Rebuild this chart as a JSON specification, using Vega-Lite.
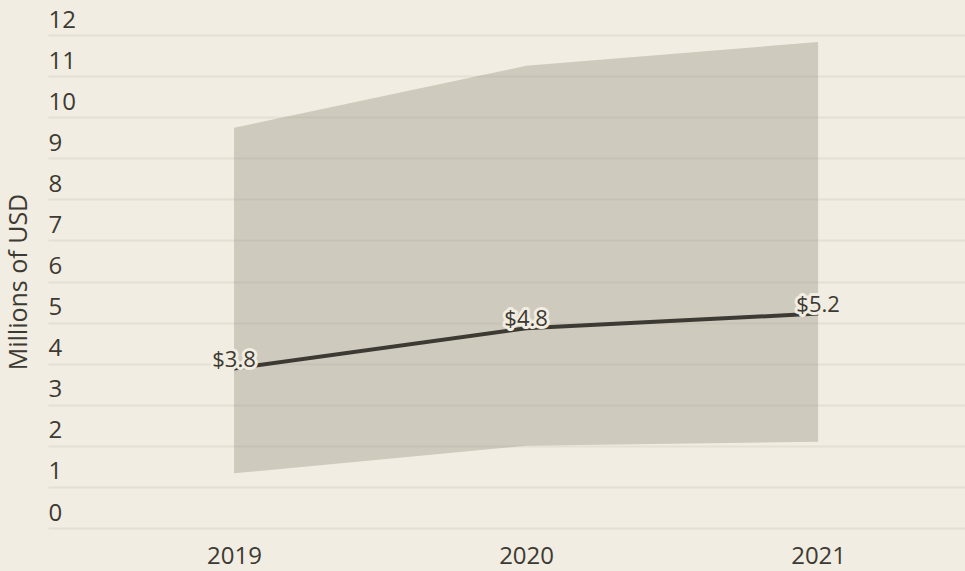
{
  "$schema": "https://vega.github.io/schema/vega-lite/v6.json",
  "autosize": "none",
  "padding": {"left": 48, "top": 35, "right": 0, "bottom": 43},
  "width": 917,
  "height": 493,
  "background": "#f1ede2",
  "config": {
    "view": {"stroke": null},
    "font": "Open Sans",
    "axis": {"labelFont": "Open Sans", "titleFont": "Open Sans", "labelColor": "#3d3a33", "titleColor": "#3d3a33"}
  },
  "data": {
    "values": [
      {"year": 2019, "value": 3.88, "low": 1.33, "high": 9.74, "label": "$3.8"},
      {"year": 2020, "value": 4.86, "low": 2.0, "high": 11.25, "label": "$4.8"},
      {"year": 2021, "value": 5.22, "low": 2.1, "high": 11.83, "label": "$5.2"}
    ]
  },
  "encoding": {
    "x": {
      "field": "year",
      "type": "quantitative",
      "scale": {"domain": [2018.363, 2021.503], "nice": false, "zero": false},
      "axis": {
        "values": [2019, 2020, 2021],
        "format": "d",
        "title": null,
        "grid": false,
        "domain": false,
        "ticks": false,
        "labelFontSize": 24,
        "labelPadding": 16,
        "labelFlush": false
      }
    }
  },
  "layer": [
    {
      "mark": {"type": "area", "color": "#9b9687", "opacity": 0.4},
      "encoding": {
        "y": {
          "field": "low",
          "type": "quantitative",
          "scale": {"domain": [0, 12], "nice": false},
          "axis": {
            "title": "Millions of USD",
            "titleFontSize": 25,
            "titleFontWeight": "normal",
            "titleX": -17,
            "values": [0, 1, 2, 3, 4, 5, 6, 7, 8, 9, 10, 11, 12],
            "grid": true,
            "gridColor": "#e4e0d4",
            "gridWidth": 2,
            "domain": false,
            "ticks": false,
            "labelAlign": "left",
            "labelBaseline": "alphabetic",
            "labelOffset": -8,
            "labelPadding": 0,
            "labelFontSize": 24
          }
        },
        "y2": {"field": "high"}
      }
    },
    {
      "mark": {"type": "line", "color": "#3d3a33", "strokeWidth": 4},
      "encoding": {"y": {"field": "value", "type": "quantitative"}}
    },
    {
      "mark": {"type": "text", "fontSize": 22, "stroke": "#f1ede2", "strokeWidth": 6, "strokeJoin": "round", "baseline": "middle", "dy": -9, "fill": "#f1ede2"},
      "encoding": {"y": {"field": "value", "type": "quantitative"}, "text": {"field": "label"}}
    },
    {
      "mark": {"type": "text", "fontSize": 22, "color": "#3d3a33", "baseline": "middle", "dy": -9},
      "encoding": {"y": {"field": "value", "type": "quantitative"}, "text": {"field": "label"}}
    }
  ]
}
